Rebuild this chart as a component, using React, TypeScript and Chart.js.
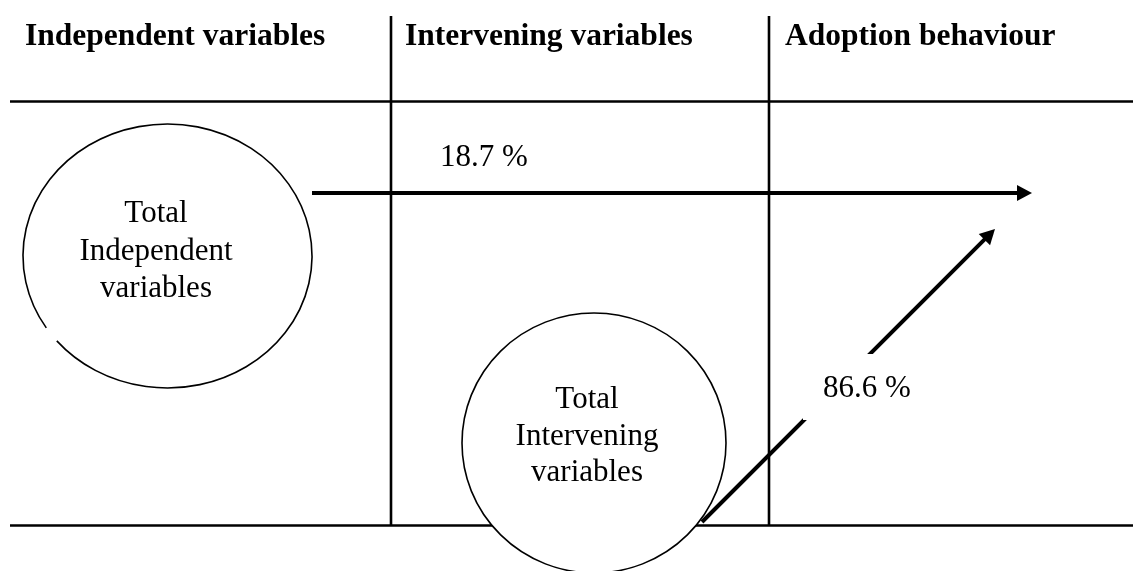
import React, { useEffect, useRef } from "react";
import { Chart, registerables } from "chart.js";

Chart.register(...registerables);

// ---------- data ----------
const columnHeaders = ["Independent variables", "Intervening variables", "Adoption behaviour"];
const nodeLabels = [
  ["Total", "Independent", "variables"],
  ["Total", "Intervening", "variables"],
];
const pathValues = [18.7, 86.6];
const pathLabels = pathValues.map((v) => `${v} %`);

// ---------- layout (diagram units) ----------
const W = 1133;
const H = 571;
const layout = {
  lineLeft: 10,
  lineRight: 1133,
  headerLineY: 101.5,
  bottomLineY: 525.5,
  colLinesX: [391, 769],
  colTop: 16,
  headerX: [25, 405, 785],
  headerBaseline: 45,
  nodes: [
    { cx: 167.5, cy: 256, rx: 144.5, ry: 132, textX: 156, baselines: [222, 260, 297], gap: [140, 147] },
    { cx: 594, cy: 443, rx: 132, ry: 130, textX: 587, baselines: [408, 445, 481], gap: null as null | number[] },
  ],
  arrows: [
    { from: [312, 193], to: [1032, 193] },
    { from: [702, 522], to: [995, 229] },
  ],
  pathLabelPos: [
    [440, 166],
    [823, 397],
  ],
  labelMasks: [null, [803, 354, 915, 420]] as (null | number[])[],
};
const style = {
  gridWidth: 2.6,
  arrowWidth: 4,
  circleWidth: 1.6,
  headLen: 15,
  headHalf: 8,
  headerFont: 'bold 31.5px "Liberation Serif", "Times New Roman", serif',
  bodyFont: '31px "Liberation Serif", "Times New Roman", serif',
};

function lineDataset(points: { x: number; y: number }[], width: number) {
  return {
    data: points,
    showLine: true,
    borderColor: "#000",
    backgroundColor: "#000",
    borderWidth: width,
    pointRadius: 0,
    pointHoverRadius: 0,
    fill: false,
    tension: 0,
    borderCapStyle: "butt" as const,
  };
}

const diagramPlugin = {
  id: "diagram",
  afterDatasetsDraw(chart: any) {
    const { ctx } = chart;
    const xs = chart.scales.x;
    const ys = chart.scales.y;
    const px = (v: number) => xs.getPixelForValue(v);
    const py = (v: number) => ys.getPixelForValue(v);
    const ux = Math.abs(px(1) - px(0));
    const uy = Math.abs(py(1) - py(0));
    ctx.save();

    // arrowheads
    layout.arrows.forEach((a) => {
      const tx = px(a.to[0]);
      const ty = py(a.to[1]);
      const fx = px(a.from[0]);
      const fy = py(a.from[1]);
      const ang = Math.atan2(ty - fy, tx - fx);
      const c = Math.cos(ang);
      const s = Math.sin(ang);
      const L = style.headLen;
      const h = style.headHalf;
      ctx.beginPath();
      ctx.moveTo(tx, ty);
      ctx.lineTo(tx - L * c + h * s, ty - L * s - h * c);
      ctx.lineTo(tx - L * c - h * s, ty - L * s + h * c);
      ctx.closePath();
      ctx.fillStyle = "#000";
      ctx.fill();
    });

    // nodes (ellipses)
    layout.nodes.forEach((n, i) => {
      const cx = px(n.cx);
      const cy = py(n.cy);
      const rx = n.rx * ux;
      const ry = n.ry * uy;
      ctx.beginPath();
      ctx.ellipse(cx, cy, rx, ry, 0, 0, Math.PI * 2);
      ctx.fillStyle = "#fff";
      ctx.fill();
      ctx.beginPath();
      if (n.gap) {
        const a0 = (n.gap[1] * Math.PI) / 180;
        const a1 = ((n.gap[0] + 360) * Math.PI) / 180;
        ctx.ellipse(cx, cy, rx, ry, 0, a0, a1);
      } else {
        ctx.ellipse(cx, cy, rx, ry, 0, 0, Math.PI * 2);
      }
      ctx.strokeStyle = "#000";
      ctx.lineWidth = style.circleWidth;
      ctx.stroke();

      ctx.fillStyle = "#000";
      ctx.font = style.bodyFont;
      ctx.textAlign = "center";
      ctx.textBaseline = "alphabetic";
      nodeLabels[i].forEach((t, k) => {
        ctx.fillText(t, px(n.textX), py(n.baselines[k]));
      });
    });

    // path labels
    pathLabels.forEach((t, i) => {
      const m = layout.labelMasks[i];
      if (m) {
        ctx.fillStyle = "#fff";
        ctx.fillRect(px(m[0]), py(m[1]), (m[2] - m[0]) * ux, (m[3] - m[1]) * uy);
      }
      ctx.fillStyle = "#000";
      ctx.font = style.bodyFont;
      ctx.textAlign = "left";
      ctx.textBaseline = "alphabetic";
      ctx.fillText(t, px(layout.pathLabelPos[i][0]), py(layout.pathLabelPos[i][1]));
    });

    // column headers
    ctx.font = style.headerFont;
    ctx.fillStyle = "#000";
    ctx.textAlign = "left";
    columnHeaders.forEach((t, i) => {
      ctx.fillText(t, px(layout.headerX[i]), py(layout.headerBaseline));
    });

    ctx.restore();
  },
};

export default function App() {
  const canvasRef = useRef<HTMLCanvasElement | null>(null);

  useEffect(() => {
    const canvas = canvasRef.current;
    if (!canvas) return;

    const datasets: any[] = [];
    // table rules
    datasets.push(
      lineDataset(
        [
          { x: layout.lineLeft, y: layout.headerLineY },
          { x: layout.lineRight, y: layout.headerLineY },
        ],
        style.gridWidth
      )
    );
    datasets.push(
      lineDataset(
        [
          { x: layout.lineLeft, y: layout.bottomLineY },
          { x: layout.lineRight, y: layout.bottomLineY },
        ],
        style.gridWidth
      )
    );
    layout.colLinesX.forEach((cx) => {
      datasets.push(
        lineDataset(
          [
            { x: cx, y: layout.colTop },
            { x: cx, y: layout.bottomLineY },
          ],
          style.gridWidth
        )
      );
    });
    // arrow shafts (stop at arrowhead base)
    layout.arrows.forEach((a) => {
      const dx = a.to[0] - a.from[0];
      const dy = a.to[1] - a.from[1];
      const len = Math.hypot(dx, dy);
      const bx = a.to[0] - (dx / len) * (style.headLen - 1);
      const by = a.to[1] - (dy / len) * (style.headLen - 1);
      datasets.push(
        lineDataset(
          [
            { x: a.from[0], y: a.from[1] },
            { x: bx, y: by },
          ],
          style.arrowWidth
        )
      );
    });

    const chart = new Chart(canvas, {
      type: "scatter",
      data: { datasets },
      options: {
        animation: false,
        responsive: false,
        maintainAspectRatio: false,
        devicePixelRatio: 1,
        layout: { padding: 0 },
        plugins: {
          legend: { display: false },
          tooltip: { enabled: false },
          title: { display: false },
        },
        events: [],
        scales: {
          x: { type: "linear", min: 0, max: W, display: false },
          y: { type: "linear", min: 0, max: H, reverse: true, display: false },
        },
      },
      plugins: [diagramPlugin],
    });
    return () => chart.destroy();
  }, []);

  return (
    <div
      style={{
        position: "fixed",
        left: 0,
        top: 0,
        width: W,
        height: H,
        background: "#fff",
      }}
    >
      <canvas ref={canvasRef} width={W} height={H} style={{ display: "block" }} />
    </div>
  );
}
